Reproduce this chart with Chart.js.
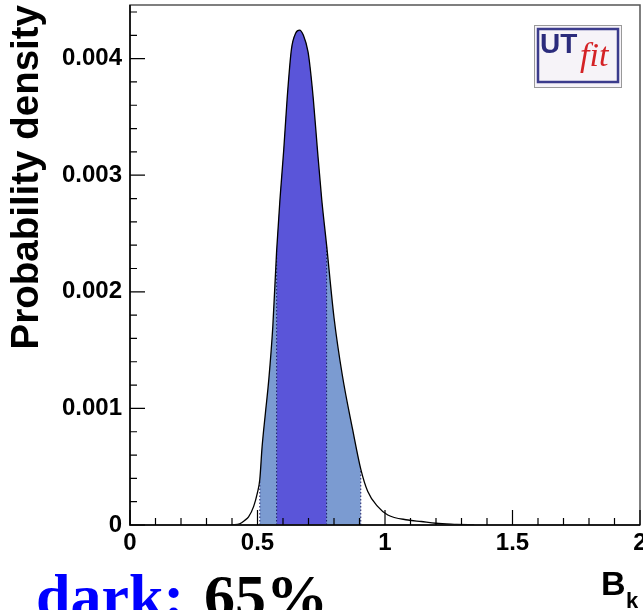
<!DOCTYPE html>
<html>
<head>
<meta charset="utf-8">
<script src="https://cdn.jsdelivr.net/npm/chart.js@4"></script>
<style>
  html, body { margin: 0; padding: 0; background: #fff; }
  #wrap { width: 643px; height: 610px; }
</style>
</head>
<body>
<div id="wrap"><canvas id="bkChart" width="643" height="610"></canvas></div>
<script>
// B_K posterior
const bk = [0.40, 0.43, 0.45, 0.465, 0.485, 0.50, 0.509, 0.518, 0.531, 0.544, 0.56, 0.575,
  0.588, 0.603, 0.616, 0.633, 0.650, 0.665, 0.680, 0.698, 0.706, 0.719, 0.735, 0.752,
  0.771, 0.80, 0.833, 0.873, 0.905, 0.932, 0.971, 1.011, 1.09, 1.142, 1.20, 1.28, 1.35];
const density = [0, 0.00001, 0.00004, 0.00007, 0.00016, 0.00028, 0.00039, 0.00067, 0.00096, 0.00124, 0.00170, 0.00235,
  0.00279, 0.00322, 0.00365, 0.00408, 0.00422, 0.004245, 0.00420, 0.00406, 0.00393, 0.00365, 0.00322, 0.00279,
  0.00240, 0.00178, 0.00128, 0.00082, 0.00048, 0.00029, 0.00016, 0.000086, 0.000043, 0.00003, 0.000015, 0.000006, 0];

// probability regions
const lightRange = [0.509, 0.905];
const darkRange = [0.575, 0.771];

const xTicks = [0, 0.5, 1, 1.5, 2];
const yTicks = [0, 0.001, 0.002, 0.003, 0.004];

const curve = bk.map((x, i) => ({ x: x, y: density[i] }));
const band = r => curve.filter(p => p.x >= r[0] - 1e-9 && p.x <= r[1] + 1e-9);
const edge = x => {
  const p = curve.find(q => Math.abs(q.x - x) < 1e-9);
  return [{ x: x, y: 0 }, { x: x, y: p.y }];
};

const darkBlue = '#5a55d9';
const lightBlue = '#7b9bd1';

const noPad = s => { s.paddingLeft = 0; s.paddingRight = 0; s.paddingTop = 0; s.paddingBottom = 0; };

const frame = {
  id: 'frame',
  afterDraw(chart) {
    const c = chart.ctx;
    const a = chart.chartArea;
    const xs = chart.scales.x, ys = chart.scales.y;
    c.save();
    // box
    c.strokeStyle = '#555';
    c.lineWidth = 1.5;
    c.strokeRect(a.left, a.top, a.right - a.left, a.bottom - a.top);
    c.strokeStyle = '#000';
    c.beginPath();
    c.moveTo(a.left, a.top); c.lineTo(a.left, a.bottom); c.lineTo(a.right, a.bottom);
    c.stroke();
    // inward ticks
    c.lineWidth = 1.2;
    c.beginPath();
    for (let i = 0; i <= 20; i++) {
      const v = i / 10;
      const px = xs.getPixelForValue(v);
      const len = (i % 5 === 0) ? 15 : 7;
      c.moveTo(px, a.bottom); c.lineTo(px, a.bottom - len);
    }
    for (let i = 0; i <= 22; i++) {
      const v = i * 0.0002;
      if (v > ys.max) break;
      const py = ys.getPixelForValue(v);
      const len = (i % 5 === 0) ? 15 : 7;
      c.moveTo(a.left, py); c.lineTo(a.left + len, py);
    }
    c.stroke();

    // UTfit logo
    c.fillStyle = '#f6f3f8';
    c.fillRect(534, 25, 88, 63);
    c.strokeStyle = '#999';
    c.lineWidth = 1;
    c.strokeRect(534.5, 25.5, 87, 62);
    c.strokeStyle = '#3b3b8c';
    c.lineWidth = 2.5;
    c.strokeRect(538, 29, 80, 53);
    c.fillStyle = '#2b2b7c';
    c.font = 'bold 28px "Liberation Sans", Arial, sans-serif';
    c.textBaseline = 'alphabetic';
    c.textAlign = 'left';
    c.fillText('UT', 540, 53);
    c.fillStyle = '#d42226';
    c.font = 'italic 34px "Liberation Serif", "Times New Roman", serif';
    c.fillText('fit', 580, 66);

    // x axis title B_k
    c.fillStyle = '#000';
    c.font = 'bold 34px "Liberation Sans", Arial, sans-serif';
    c.fillText('B', 601, 595);
    c.font = 'bold 22px "Liberation Sans", Arial, sans-serif';
    c.fillText('k', 626, 608);

    // bottom caption
    c.font = 'bold 62px "Liberation Serif", "Times New Roman", serif';
    c.fillStyle = '#0000ff';
    c.fillText('dark:', 36, 617);
    c.fillStyle = '#000';
    c.fillText('65%', 204, 617);
    c.restore();
  }
};

const tickFont = { family: '"Liberation Sans", Arial, sans-serif', size: 24, weight: 'bold' };

new Chart(document.getElementById('bkChart').getContext('2d'), {
  type: 'line',
  data: {
    datasets: [
      {
        label: 'density',
        data: curve,
        borderColor: '#000',
        borderWidth: 1.3,
        pointRadius: 0,
        fill: false,
        cubicInterpolationMode: 'monotone',
        order: 0
      },
      ...[lightRange[0], darkRange[0], darkRange[1], lightRange[1]].map(x => ({
        label: 'edge',
        data: edge(x),
        borderColor: '#1a1a66',
        borderWidth: 1,
        borderDash: [1.5, 2],
        pointRadius: 0,
        fill: false,
        order: 1
      })),
      {
        label: 'dark',
        data: band(darkRange),
        borderWidth: 0,
        borderColor: 'rgba(0,0,0,0)',
        backgroundColor: darkBlue,
        pointRadius: 0,
        fill: 'origin',
        cubicInterpolationMode: 'monotone',
        order: 2
      },
      {
        label: 'light',
        data: band(lightRange),
        borderWidth: 0,
        borderColor: 'rgba(0,0,0,0)',
        backgroundColor: lightBlue,
        pointRadius: 0,
        fill: 'origin',
        cubicInterpolationMode: 'monotone',
        order: 3
      }
    ]
  },
  options: {
    responsive: false,
    animation: false,
    layout: { padding: { top: 5, right: 3, left: 0, bottom: 0 } },
    plugins: { legend: { display: false }, tooltip: { enabled: false } },
    scales: {
      x: {
        type: 'linear',
        min: 0,
        max: 2,
        grid: { display: false },
        border: { display: false },
        afterBuildTicks: s => { s.ticks = xTicks.map(v => ({ value: v })); },
        afterFit: s => { s.height = 85; noPad(s); },
        ticks: {
          autoSkip: false,
          maxRotation: 0,
          padding: -4,
          color: '#000',
          font: tickFont,
          callback: v => String(v)
        }
      },
      y: {
        min: 0,
        max: 0.00446,
        grid: { display: false },
        border: { display: false },
        afterBuildTicks: s => { s.ticks = yTicks.map(v => ({ value: v })); },
        afterFit: s => { s.width = 130; noPad(s); },
        ticks: {
          autoSkip: false,
          padding: 0,
          color: '#000',
          font: tickFont,
          callback: v => v === 0 ? '0' : v.toFixed(3)
        },
        title: {
          display: true,
          text: 'Probability density',
          align: 'end',
          color: '#000',
          padding: { top: 4, bottom: 0 },
          font: { family: '"Liberation Sans", Arial, sans-serif', size: 38.5, weight: 'bold' }
        }
      }
    }
  },
  plugins: [frame]
});
</script>
</body>
</html>
